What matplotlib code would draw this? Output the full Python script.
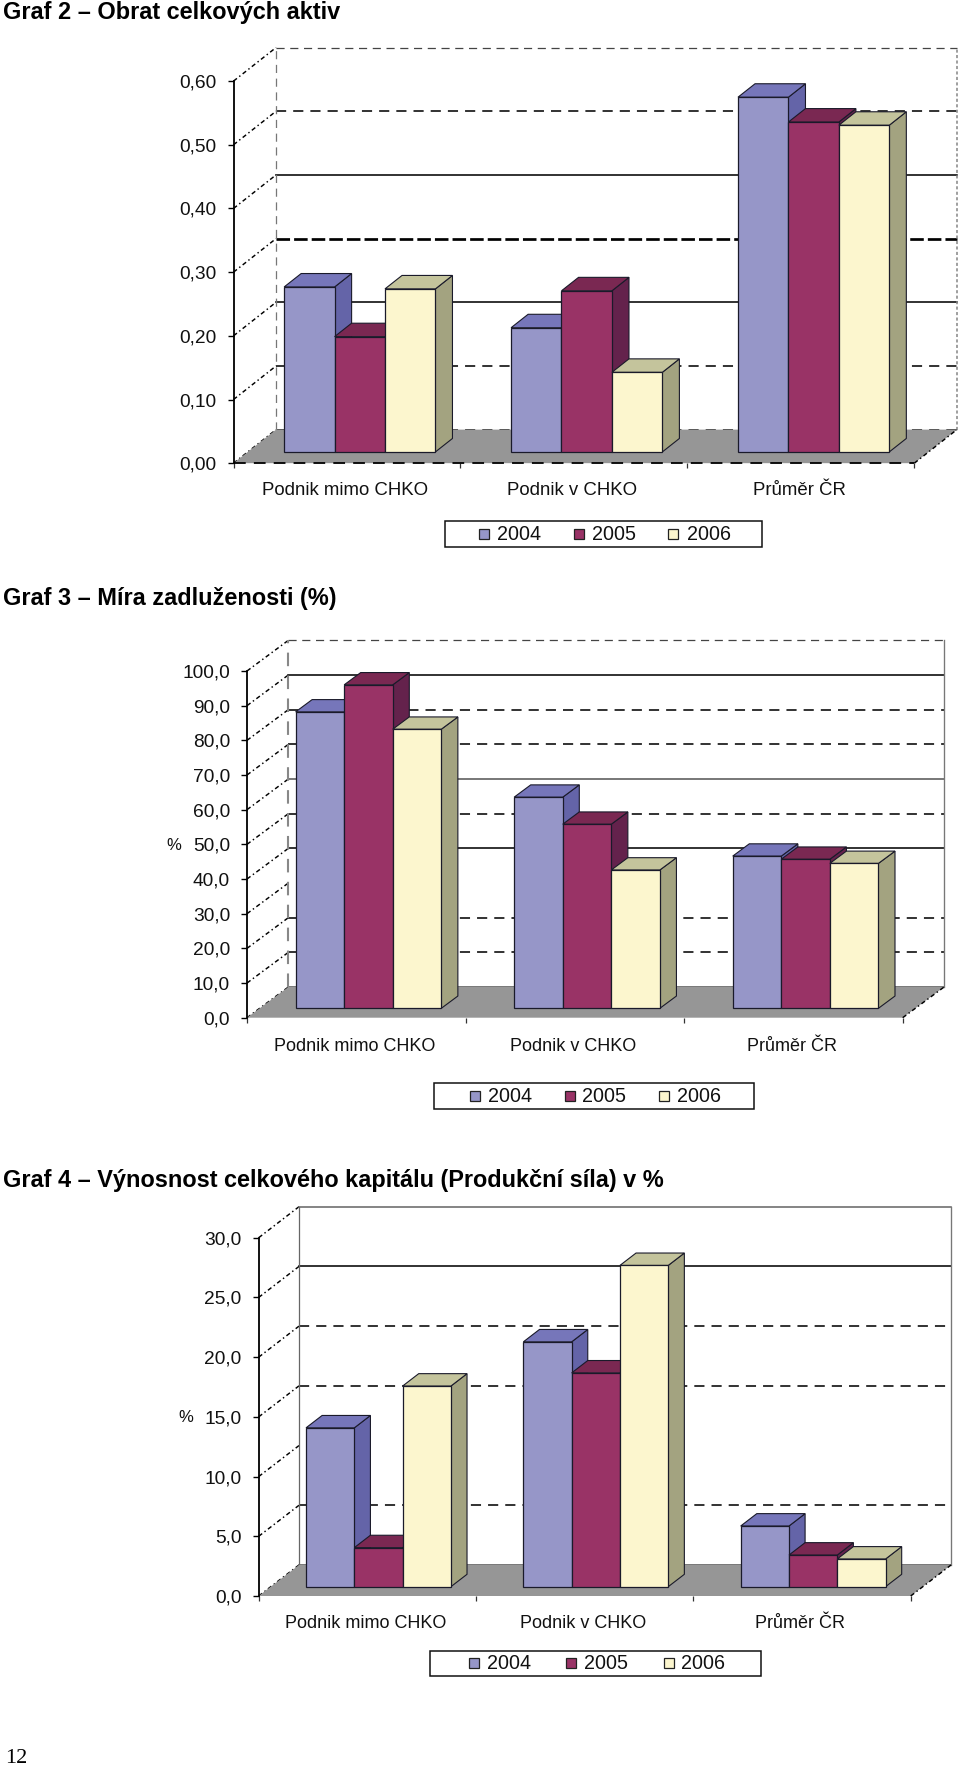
import matplotlib
matplotlib.use("Agg")
import matplotlib.pyplot as plt
from matplotlib.patches import Polygon, Rectangle

plt.rcParams['font.family'] = ['Liberation Sans', 'DejaVu Sans']

# ---- data ----
categories = ["Podnik mimo CHKO", "Podnik v CHKO", "Průměr ČR"]
years = ["2004", "2005", "2006"]

obrat_2004 = [0.259, 0.195, 0.557]
obrat_2005 = [0.181, 0.253, 0.518]
obrat_2006 = [0.256, 0.125, 0.513]
obrat_ticks = [0.0, 0.1, 0.2, 0.3, 0.4, 0.5, 0.6]
obrat_labels = ["0,00", "0,10", "0,20", "0,30", "0,40", "0,50", "0,60"]

dluh_2004 = [85.5, 60.9, 43.9]
dluh_2005 = [93.3, 53.1, 43.0]
dluh_2006 = [80.5, 39.9, 41.8]
dluh_ticks = [0, 10, 20, 30, 40, 50, 60, 70, 80, 90, 100]
dluh_labels = ["0,0", "10,0", "20,0", "30,0", "40,0", "50,0", "60,0", "70,0", "80,0", "90,0", "100,0"]

vynos_2004 = [13.3, 20.5, 5.08]
vynos_2005 = [3.27, 17.9, 2.65]
vynos_2006 = [16.8, 26.9, 2.32]
vynos_ticks = [0, 5, 10, 15, 20, 25, 30]
vynos_labels = ["0,0", "5,0", "10,0", "15,0", "20,0", "25,0", "30,0"]

titles = ["Graf 2 – Obrat celkových aktiv", "Graf 3 – Míra zadluženosti (%)",
          "Graf 4 – Výnosnost celkového kapitálu (Produkční síla) v %"]

# ---- styles and layout ----
W, H = 960, 1766
FRONT = ["#9696C8", "#993366", "#FCF6CE"]
SIDE = ["#6464A8", "#64224C", "#A3A380"]
TOP = ["#7676BA", "#7A2852", "#C4C49C"]
EDGE = "#1a1a2a"
FLOOR = "#969696"
DASH = (0, (6.5, 4.5))
SIDE_LS = (0, (3, 2, 1, 2))
S = ('-', 1.5, 'black')
D = (DASH, 1.5, 'black')
G = ('-', 1.5, '#555555')
GD = (DASH, 1.2, '#444444')
T = ((0, (5, 1.5)), 2.6, 'black')
N = None

charts = [
    dict(left=233.5, right=914.3, y0=463.2, ytop=81.1, ddx=42.6, ddy=33.6, bar_shift=-1.5,
         bar_frac=0.336, series=[obrat_2004, obrat_2005, obrat_2006], ticks=obrat_ticks, labels=obrat_labels,
         grid=[D, D, S, T, S, D, GD], wall=(DASH, 1.2, '#777777'), rwall=((0, (2, 1.5)), 1.5, '#888888'),
         front_edge=True, label_y=490.7, label_size=13.4, title_y=12.5,
         ylabel=None,
         legend=dict(box=(445.3, 761.7, 521, 547.2), marks=[484, 579, 673.3], texts=[497.5, 592, 686.5]),
         ylabel_right=216),
    dict(left=247, right=902.7, y0=1017.7, ytop=671, ddx=41.4, ddy=30.7, bar_shift=-0.5,
         bar_frac=0.306, series=[dluh_2004, dluh_2005, dluh_2006], ticks=dluh_ticks, labels=dluh_labels,
         grid=[G, D, D, N, S, D, G, D, D, S, GD], wall=(DASH, 2.0, '#888888'), rwall=('-', 1.3, '#777777'),
         front_edge=False, label_y=1046.5, label_size=13.0, title_y=599,
         ylabel=(174, 845.5),
         legend=dict(box=(433.7, 753.7, 1083.3, 1108.7), marks=[475.3, 570, 664.3], texts=[488, 582, 676.7]),
         ylabel_right=230),
    dict(left=258.7, right=910.7, y0=1596, ytop=1237.7, ddx=40.3, ddy=31, bar_shift=-1,
         bar_frac=0.30, series=[vynos_2004, vynos_2005, vynos_2006], ticks=vynos_ticks, labels=vynos_labels,
         grid=[G, D, N, D, D, S, ('-', 1.5, '#666666')], wall=('-', 1.2, '#666666'), rwall=('-', 1.3, '#777777'),
         front_edge=False, label_y=1623.5, label_size=13.0, title_y=1180,
         ylabel=(186, 1417.5),
         legend=dict(box=(429.7, 761, 1651, 1675.7), marks=[474, 571.3, 669], texts=[487, 584, 681.5]),
         ylabel_right=241.5),
]

fig = plt.figure(figsize=(W / 100, H / 100), dpi=100, facecolor='white')
page = fig.add_axes([0, 0, 1, 1], zorder=5)
page.set_xlim(0, W)
page.set_ylim(H, 0)
page.axis('off')
page.patch.set_alpha(0)

for cfg, title in zip(charts, titles):
    page.text(3, cfg['title_y'], title, fontsize=16.9, fontweight='bold', ha='left', va='center', color='black')

    ax = fig.add_axes([cfg['left'] / W, 1 - cfg['y0'] / H, (cfg['right'] - cfg['left']) / W,
                       (cfg['y0'] - cfg['ytop']) / H])
    ymax = cfg['ticks'][-1]
    n = len(categories)
    ax.set_xlim(0, n)
    ax.set_ylim(0, ymax)
    ax.patch.set_alpha(0)
    for s in ('top', 'right', 'bottom'):
        ax.spines[s].set_visible(False)
    ax.spines['left'].set_linewidth(1.3)
    ax.spines['left'].set_color('black')

    ux = (cfg['right'] - cfg['left']) / n          # px per category
    uy = (cfg['y0'] - cfg['ytop']) / ymax          # px per value unit
    dx = cfg['ddx'] / ux
    dy = cfg['ddy'] / uy

    # floor
    ax.add_patch(Polygon([(0, 0), (n, 0), (n + dx, dy), (dx, dy)], closed=True, fc=FLOOR, ec='none',
                         zorder=2, clip_on=False))
    if cfg['front_edge']:
        ax.plot([0, n], [0, 0], ls=DASH, lw=1.3, color='black', zorder=2.1, clip_on=False)

    # walls and gridlines
    for v, st in zip(cfg['ticks'], cfg['grid']):
        ax.plot([0, dx], [v, v + dy], ls=SIDE_LS, lw=1.05, color='black', zorder=1, clip_on=False)
        if st is not None:
            ls, lw, c = st
            ax.plot([dx, n + dx], [v + dy, v + dy], ls=ls, lw=lw * 0.75, color=c, zorder=1, clip_on=False)
    ax.plot([n, n + dx], [0, dy], ls=SIDE_LS, lw=1.05, color='black', zorder=2.2, clip_on=False)
    ls, lw, c = cfg['wall']
    ax.plot([dx, dx], [dy, ymax + dy], ls=ls, lw=lw * 0.75, color=c, zorder=1.2, clip_on=False)
    ls, lw, c = cfg['rwall']
    ax.plot([n + dx, n + dx], [dy, ymax + dy], ls=ls, lw=lw * 0.75, color=c, zorder=1.2, clip_on=False)

    # bars, painted from left to right
    frac = cfg['bar_frac']
    bw = 2 / 9
    depth = 0.4
    z = 3.0
    for g in range(n):
        for i, values in enumerate(cfg['series']):
            v = values[g]
            x0 = g + 1 / 6 + i * bw + frac * dx + cfg['bar_shift'] / ux
            b = frac * dy
            ox, oy = depth * dx, depth * dy
            x1 = x0 + bw
            top = b + v
            ax.add_patch(Polygon([(x1, b), (x1 + ox, b + oy), (x1 + ox, top + oy), (x1, top)], closed=True,
                                 fc=SIDE[i], ec=EDGE, lw=0.8, zorder=z, clip_on=False))
            ax.add_patch(Polygon([(x0, top), (x1, top), (x1 + ox, top + oy), (x0 + ox, top + oy)], closed=True,
                                 fc=TOP[i], ec=EDGE, lw=0.8, zorder=z, clip_on=False))
            ax.bar(x0, v, width=bw, bottom=b, align='edge', color=FRONT[i], edgecolor=EDGE, linewidth=0.9,
                   zorder=z + 0.01, clip_on=False)
            z += 0.1

    # ticks and labels
    ax.set_yticks(cfg['ticks'])
    ax.set_yticklabels(cfg['labels'])
    pad = (cfg['left'] - cfg['ylabel_right'] - 6) * 0.72
    ax.tick_params(axis='y', length=4.3, width=1.0, pad=pad, labelsize=13.8, labelcolor='#111111')
    ax.set_xticks(range(n + 1))
    ax.set_xticklabels([])
    ax.tick_params(axis='x', which='major', length=3.6, width=0.9, color='#333333')
    ax.xaxis.set_ticks_position('bottom')
    ax.spines['bottom'].set_position(('data', 0))
    for g, name in enumerate(categories):
        page.text(cfg['left'] + (g + 0.5) * ux - 1.7, cfg['label_y'], name, fontsize=cfg['label_size'], ha='center',
                  va='center', color='#111111')

    if cfg['ylabel']:
        page.text(cfg['ylabel'][0], cfg['ylabel'][1], "%", fontsize=12, ha='center', va='center', color='#111111')

    # legend
    lg = cfg['legend']
    l, r, t, btm = lg['box']
    page.add_patch(Rectangle((l, t), r - l, btm - t, fc='white', ec='#111111', lw=1.1))
    cy = (t + btm) / 2
    for mx, tx, yr, col in zip(lg['marks'], lg['texts'], years, FRONT):
        page.add_patch(Rectangle((mx - 5, cy - 5), 10, 10, fc=col, ec='#222222', lw=0.9))
        page.text(tx, cy, yr, fontsize=14.2, ha='left', va='center', color='#111111')

page.text(5, 1763, "12", family='Liberation Serif', fontsize=16, ha='left', va='baseline', color='black')

fig.savefig("out.png", dpi=100)
